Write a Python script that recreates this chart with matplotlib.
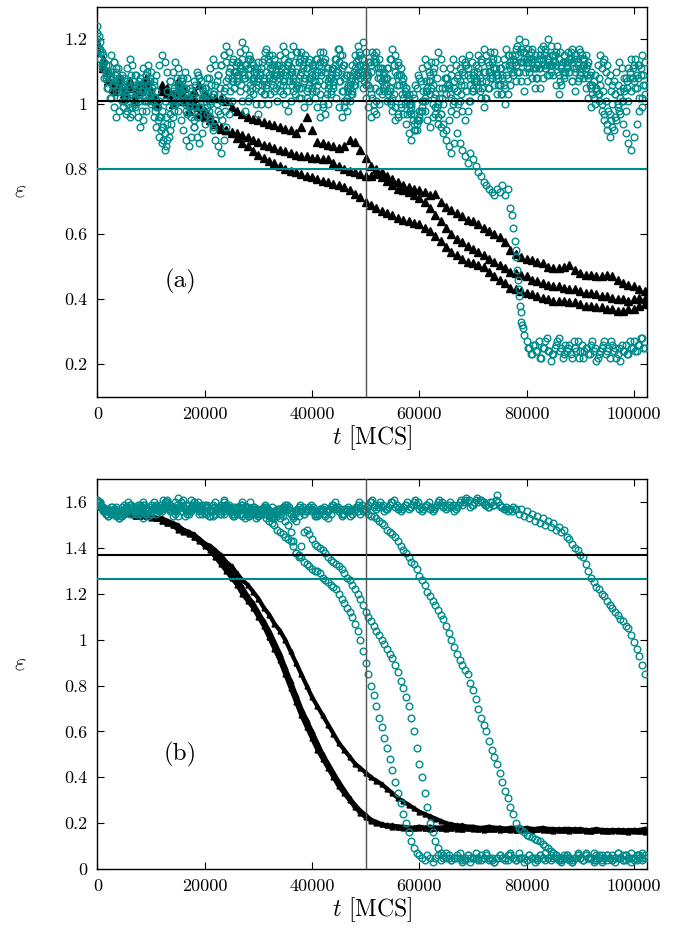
import numpy as np
import matplotlib.pyplot as plt
from matplotlib.ticker import FuncFormatter, MultipleLocator

plt.rcParams['font.family'] = 'serif'
plt.rcParams['font.serif'] = ['cmr10']
plt.rcParams['mathtext.fontset'] = 'cm'
plt.rcParams['axes.formatter.use_mathtext'] = True

teal = '#008b8b'

# ---------------- panel (a) ----------------
# teal runs, sampled every 500 MCS
a_teal_1 = [1.24, 1.19, 1.15, 1.12, 1.10, 1.08, 1.06, 1.04, 1.07, 1.09,
            1.05, 1.02, 0.99, 0.97, 1.00, 1.03, 1.06, 1.04, 1.01, 1.03,
            1.00, 0.96, 0.93, 0.90, 0.88, 0.86, 0.89, 0.92, 0.96, 1.00,
            1.03, 1.06, 1.08, 1.05, 1.02, 0.98, 0.95, 0.98, 1.02, 1.05,
            1.03, 0.99, 0.95, 0.92, 0.89, 0.87, 0.85, 0.89, 0.93, 0.97,
            1.01, 1.05, 1.09, 1.12, 1.10, 1.08, 1.11, 1.14, 1.12, 1.09,
            1.06, 1.04, 1.07, 1.10, 1.13, 1.15, 1.12, 1.09, 1.06, 1.03,
            1.00, 0.98, 1.01, 1.04, 1.07, 1.05, 1.02, 0.99, 1.02, 1.06,
            1.09, 1.12, 1.14, 1.16, 1.13, 1.10, 1.07, 1.04, 1.07, 1.10,
            1.13, 1.11, 1.08, 1.05, 1.09, 1.12, 1.15, 1.18, 1.15, 1.12,
            1.09, 1.06, 1.03, 1.00, 0.97, 1.00, 1.03, 1.06, 1.04, 1.01,
            0.98, 0.95, 0.97, 1.00, 0.97, 0.94, 0.91, 0.89, 0.92, 0.95,
            0.98, 1.01, 0.98, 0.95, 0.93, 0.96, 0.99, 0.96, 0.93, 0.91,
            0.89, 0.87, 0.85, 0.88, 0.91, 0.88, 0.86, 0.84, 0.82, 0.85,
            0.83, 0.81, 0.79, 0.78, 0.76, 0.75, 0.74, 0.73, 0.72, 0.74,
            0.73, 0.75, 0.72, 0.74, 0.68, 0.62, 0.53, 0.43, 0.33, 0.29,
            0.27, 0.25, 0.23, 0.26, 0.24, 0.22, 0.25, 0.27, 0.24, 0.21,
            0.23, 0.26, 0.28, 0.25, 0.23, 0.24, 0.26, 0.22, 0.25, 0.27,
            0.24, 0.22, 0.25, 0.23, 0.26, 0.24, 0.21, 0.23, 0.25, 0.27,
            0.24, 0.22, 0.26, 0.25, 0.23, 0.21, 0.24, 0.26, 0.23, 0.25,
            0.27, 0.24, 0.26, 0.28, 0.25]
a_drop_t = [77250, 77750, 78100, 78250, 78400, 78600, 78750, 78900, 79100, 79250]
a_drop_eps = [0.66, 0.58, 0.55, 0.49, 0.46, 0.41, 0.38, 0.36, 0.32, 0.31]
# in-between samples of the same run after its drop (80250 + 500 k MCS)
a_tail_mid = [0.25, 0.23, 0.26, 0.24, 0.27, 0.22, 0.25, 0.28, 0.24, 0.23,
              0.25, 0.27, 0.24, 0.22, 0.26, 0.25, 0.23, 0.27, 0.24, 0.22,
              0.26, 0.24, 0.25, 0.23, 0.27, 0.25, 0.22, 0.24, 0.26, 0.23,
              0.25, 0.27, 0.24, 0.22, 0.25, 0.26, 0.24, 0.23, 0.27, 0.25,
              0.24, 0.26, 0.28, 0.25]

a_teal_2 = [1.20, 1.16, 1.12, 1.09, 1.07, 1.10, 1.13, 1.11, 1.08, 1.05,
            1.08, 1.11, 1.14, 1.12, 1.09, 1.06, 1.03, 1.06, 1.09, 1.12,
            1.10, 1.07, 1.04, 1.01, 0.98, 1.01, 1.04, 1.07, 1.10, 1.13,
            1.11, 1.08, 1.05, 1.02, 0.99, 0.96, 0.93, 0.90, 0.88, 0.91,
            0.94, 0.97, 1.00, 1.03, 1.06, 1.09, 1.12, 1.15, 1.13, 1.10,
            1.07, 1.10, 1.13, 1.16, 1.19, 1.17, 1.14, 1.11, 1.08, 1.05,
            1.08, 1.11, 1.14, 1.17, 1.15, 1.12, 1.09, 1.12, 1.15, 1.18,
            1.16, 1.13, 1.10, 1.07, 1.10, 1.13, 1.16, 1.14, 1.11, 1.08,
            1.05, 1.02, 0.99, 0.96, 0.99, 1.02, 1.05, 1.08, 1.11, 1.14,
            1.17, 1.15, 1.12, 1.09, 1.06, 1.03, 1.06, 1.09, 1.12, 1.19,
            1.16, 1.13, 1.10, 1.13, 1.16, 1.14, 1.11, 1.08, 1.11, 1.14,
            1.17, 1.15, 1.12, 1.09, 1.06, 1.03, 1.00, 0.97, 0.94, 0.92,
            0.95, 0.98, 1.01, 1.04, 1.07, 1.10, 1.13, 1.16, 1.14, 1.11,
            1.08, 1.05, 1.02, 1.05, 1.08, 1.11, 1.14, 1.12, 1.09, 1.06,
            1.09, 1.12, 1.15, 1.13, 1.10, 1.07, 1.10, 1.13, 1.16, 1.14,
            1.11, 1.08, 1.05, 1.08, 1.11, 1.14, 1.17, 1.20, 1.17, 1.14,
            1.11, 1.14, 1.17, 1.15, 1.12, 1.15, 1.18, 1.16, 1.13, 1.10,
            1.13, 1.16, 1.14, 1.11, 1.08, 1.11, 1.14, 1.17, 1.15, 1.12,
            1.09, 1.12, 1.15, 1.13, 1.10, 1.07, 1.04, 1.01, 0.98, 0.95,
            0.92, 0.90, 0.93, 0.96, 0.99, 1.02, 1.05, 1.08, 1.11, 1.14,
            1.12, 1.09, 1.12, 1.15, 1.13]

a_teal_3 = [1.22, 1.17, 1.13, 1.10, 1.12, 1.15, 1.13, 1.10, 1.07, 1.04,
            1.01, 0.98, 0.96, 0.99, 1.02, 1.05, 1.08, 1.11, 1.09, 1.06,
            1.03, 1.06, 1.09, 1.12, 1.15, 1.13, 1.10, 1.07, 1.04, 1.01,
            0.98, 0.95, 0.92, 0.89, 0.87, 0.90, 0.93, 0.96, 0.99, 1.02,
            1.05, 1.08, 1.11, 1.14, 1.12, 1.09, 1.12, 1.15, 1.18, 1.16,
            1.13, 1.10, 1.07, 1.04, 1.01, 0.98, 1.01, 1.04, 1.07, 1.10,
            1.13, 1.11, 1.08, 1.05, 1.08, 1.11, 1.14, 1.12, 1.09, 1.06,
            1.09, 1.12, 1.15, 1.18, 1.16, 1.13, 1.10, 1.07, 1.04, 1.01,
            1.04, 1.07, 1.10, 1.13, 1.16, 1.14, 1.11, 1.08, 1.05, 1.02,
            0.99, 0.96, 0.99, 1.02, 1.05, 1.08, 1.11, 1.14, 1.12, 1.09,
            1.06, 1.09, 1.12, 1.15, 1.13, 1.10, 1.07, 1.04, 1.01, 1.04,
            1.07, 1.10, 1.13, 1.11, 1.08, 1.05, 1.02, 0.99, 1.02, 1.05,
            1.08, 1.11, 1.14, 1.12, 1.09, 1.06, 1.03, 1.00, 0.97, 0.94,
            0.92, 0.95, 0.98, 1.01, 1.04, 1.07, 1.10, 1.13, 1.11, 1.08,
            1.05, 1.08, 1.11, 1.14, 1.17, 1.15, 1.12, 1.09, 1.06, 1.03,
            1.06, 1.09, 1.12, 1.15, 1.13, 1.10, 1.07, 1.10, 1.13, 1.16,
            1.14, 1.11, 1.08, 1.05, 1.08, 1.11, 1.14, 1.17, 1.20, 1.18,
            1.15, 1.12, 1.09, 1.12, 1.15, 1.13, 1.10, 1.07, 1.10, 1.13,
            1.16, 1.14, 1.11, 1.08, 1.05, 1.02, 1.05, 1.08, 1.11, 1.14,
            1.12, 1.09, 1.06, 1.03, 1.00, 0.97, 0.94, 0.91, 0.88, 0.86,
            0.90, 0.94, 0.98, 1.02, 1.06]

a_teal_4 = [1.18, 1.14, 1.11, 1.08, 1.05, 1.02, 0.99, 0.96, 0.98, 1.01,
            1.04, 1.07, 1.05, 1.02, 0.99, 0.96, 0.93, 0.95, 0.98, 1.01,
            1.04, 1.02, 0.99, 0.96, 0.93, 0.91, 0.94, 0.97, 1.00, 1.03,
            1.06, 1.04, 1.01, 0.98, 1.01, 1.04, 1.07, 1.10, 1.08, 1.05,
            1.02, 0.99, 0.96, 0.93, 0.95, 0.98, 1.01, 1.04, 1.07, 1.10,
            1.08, 1.05, 1.08, 1.11, 1.14, 1.12, 1.09, 1.06, 1.03, 1.00,
            0.97, 1.00, 1.03, 1.06, 1.09, 1.07, 1.04, 1.01, 1.04, 1.07,
            1.10, 1.13, 1.11, 1.08, 1.05, 1.02, 1.05, 1.08, 1.11, 1.14,
            1.12, 1.09, 1.06, 1.03, 1.00, 0.97, 1.00, 1.03, 1.06, 1.09,
            1.07, 1.04, 1.01, 0.98, 1.01, 1.04, 1.07, 1.10, 1.08, 1.05,
            1.02, 0.99, 0.96, 0.98, 1.01, 1.04, 1.07, 1.10, 1.08, 1.05,
            1.02, 0.99, 0.96, 0.99, 1.02, 1.05, 1.03, 1.00, 0.97, 0.94,
            0.96, 0.99, 1.02, 1.05, 1.03, 1.00, 0.97, 0.94, 0.97, 1.00,
            1.03, 1.06, 1.09, 1.07, 1.04, 1.01, 0.98, 0.95, 0.98, 1.01,
            1.04, 1.07, 1.05, 1.02, 0.99, 1.02, 1.05, 1.08, 1.11, 1.09,
            1.06, 1.03, 1.00, 1.03, 1.06, 1.09, 1.12, 1.10, 1.07, 1.04,
            1.07, 1.10, 1.13, 1.11, 1.08, 1.05, 1.08, 1.11, 1.14, 1.12,
            1.09, 1.06, 1.03, 1.06, 1.09, 1.12, 1.10, 1.07, 1.04, 1.07,
            1.10, 1.08, 1.05, 1.02, 0.99, 1.02, 1.05, 1.03, 1.00, 0.97,
            0.94, 0.97, 1.00, 1.03, 1.06, 1.04, 1.01, 0.98, 1.01, 1.04,
            1.07, 1.05, 1.02, 0.99, 1.03]

# two more teal runs, sampled at 250 + 500 k MCS
a_teal_5 = [1.21, 1.16, 1.13, 1.10, 1.08, 1.06, 1.09, 1.11, 1.08, 1.05,
            1.03, 1.06, 1.09, 1.07, 1.04, 1.01, 0.98, 1.01, 1.04, 1.07,
            1.05, 1.02, 0.99, 0.96, 0.93, 0.96, 0.99, 1.02, 1.05, 1.08,
            1.06, 1.03, 1.00, 0.97, 1.00, 1.03, 1.06, 1.09, 1.07, 1.04,
            1.01, 0.98, 1.01, 1.04, 1.07, 1.05, 1.02, 1.05, 1.08, 1.11,
            1.14, 1.12, 1.09, 1.06, 1.09, 1.12, 1.15, 1.13, 1.10, 1.07,
            1.10, 1.13, 1.16, 1.14, 1.11, 1.08, 1.05, 1.08, 1.11, 1.14,
            1.12, 1.09, 1.06, 1.03, 1.06, 1.09, 1.12, 1.15, 1.13, 1.10,
            1.07, 1.04, 1.07, 1.10, 1.13, 1.11, 1.08, 1.11, 1.14, 1.17,
            1.15, 1.12, 1.09, 1.06, 1.03, 1.06, 1.09, 1.12, 1.10, 1.07,
            1.10, 1.13, 1.16, 1.14, 1.11, 1.08, 1.05, 1.08, 1.11, 1.14,
            1.12, 1.09, 1.06, 1.03, 1.00, 0.97, 1.00, 1.03, 1.06, 1.09,
            1.07, 1.04, 1.07, 1.10, 1.13, 1.11, 1.08, 1.05, 1.02, 1.05,
            1.08, 1.11, 1.14, 1.12, 1.09, 1.06, 1.09, 1.12, 1.15, 1.13,
            1.10, 1.07, 1.04, 1.07, 1.10, 1.13, 1.16, 1.14, 1.11, 1.08,
            1.11, 1.14, 1.17, 1.15, 1.12, 1.15, 1.18, 1.16, 1.13, 1.10,
            1.13, 1.16, 1.14, 1.11, 1.14, 1.17, 1.15, 1.12, 1.09, 1.12,
            1.15, 1.18, 1.16, 1.13, 1.10, 1.13, 1.16, 1.14, 1.11, 1.08,
            1.11, 1.14, 1.12, 1.09, 1.06, 1.09, 1.12, 1.15, 1.13, 1.10,
            1.07, 1.04, 1.07, 1.10, 1.13, 1.11, 1.08, 1.05, 1.08, 1.11,
            1.14, 1.12, 1.09, 1.06]
a_teal_6 = [1.17, 1.12, 1.08, 1.05, 1.02, 1.04, 1.07, 1.05, 1.02, 0.99,
            0.97, 1.00, 1.03, 1.06, 1.09, 1.07, 1.04, 1.07, 1.10, 1.08,
            1.01, 0.98, 0.95, 0.92, 0.89, 0.87, 0.90, 0.94, 0.98, 1.01,
            1.04, 1.07, 1.10, 1.08, 1.05, 1.02, 0.99, 0.96, 0.99, 1.02,
            1.05, 1.08, 1.06, 1.03, 1.00, 0.97, 0.95, 0.98, 1.01, 1.04,
            1.07, 1.10, 1.13, 1.11, 1.08, 1.05, 1.02, 1.05, 1.08, 1.11,
            1.09, 1.06, 1.03, 1.00, 1.03, 1.06, 1.09, 1.12, 1.10, 1.07,
            1.04, 1.07, 1.10, 1.13, 1.16, 1.14, 1.11, 1.08, 1.05, 1.08,
            1.11, 1.14, 1.12, 1.09, 1.06, 1.03, 1.06, 1.09, 1.12, 1.10,
            1.07, 1.04, 1.01, 1.04, 1.07, 1.10, 1.13, 1.16, 1.14, 1.11,
            1.08, 1.05, 1.02, 1.05, 1.08, 1.11, 1.09, 1.06, 1.03, 1.00,
            1.03, 1.06, 1.09, 1.07, 1.04, 1.01, 0.98, 0.95, 0.92, 0.95,
            0.98, 1.01, 1.04, 1.07, 1.05, 1.02, 0.99, 1.02, 1.05, 1.08,
            1.06, 1.03, 1.00, 0.97, 1.00, 1.03, 1.06, 1.04, 1.01, 1.04,
            1.07, 1.10, 1.08, 1.05, 1.02, 1.05, 1.08, 1.11, 1.09, 1.06,
            1.03, 1.06, 1.09, 1.12, 1.15, 1.13, 1.10, 1.13, 1.16, 1.19,
            1.17, 1.14, 1.11, 1.08, 1.11, 1.14, 1.12, 1.09, 1.12, 1.15,
            1.13, 1.10, 1.07, 1.10, 1.13, 1.16, 1.14, 1.11, 1.14, 1.17,
            1.15, 1.12, 1.09, 1.06, 1.03, 1.00, 1.03, 1.06, 1.04, 1.01,
            0.98, 0.95, 0.92, 0.95, 0.98, 1.01, 1.04, 1.07, 1.10, 1.08,
            1.05, 1.08, 1.11, 1.09]

# black runs, sampled every 1000 MCS
a_black_1 = [1.19, 1.14, 1.10, 1.06, 1.08, 1.04, 1.07, 1.03, 1.06, 1.08,
             1.04, 1.02, 1.06, 1.05, 1.03, 1.07, 1.05, 1.02, 1.04, 1.06,
             1.03, 1.02, 1.02, 1.02, 1.01, 0.99, 0.98, 0.97, 0.96, 0.955,
             0.95, 0.945, 0.94, 0.935, 0.93, 0.925, 0.92, 0.91, 0.93, 0.96,
             0.92, 0.885, 0.88, 0.875, 0.87, 0.865, 0.87, 0.89, 0.885, 0.86,
             0.835, 0.81, 0.80, 0.79, 0.78, 0.77, 0.76, 0.75, 0.745, 0.74,
             0.735, 0.73, 0.72, 0.725, 0.70, 0.685, 0.675, 0.665, 0.655, 0.645,
             0.64, 0.63, 0.62, 0.61, 0.60, 0.59, 0.575, 0.55, 0.54, 0.53,
             0.525, 0.52, 0.515, 0.51, 0.50, 0.495, 0.495, 0.50, 0.505, 0.49,
             0.48, 0.475, 0.475, 0.47, 0.47, 0.475, 0.47, 0.46, 0.45, 0.445,
             0.44, 0.43, 0.425]
a_black_2 = [1.17, 1.12, 1.08, 1.05, 1.07, 1.03, 1.06, 1.02, 1.05, 1.07,
             1.03, 1.01, 1.05, 1.04, 1.02, 1.05, 1.03, 1.00, 1.02, 0.99,
             0.98, 0.96, 0.94, 0.925, 0.92, 0.915, 0.91, 0.905, 0.90, 0.89,
             0.885, 0.875, 0.87, 0.865, 0.86, 0.855, 0.85, 0.845, 0.84, 0.84,
             0.835, 0.835, 0.83, 0.83, 0.82, 0.81, 0.80, 0.795, 0.79, 0.785,
             0.78, 0.78, 0.785, 0.775, 0.765, 0.75, 0.74, 0.735, 0.73, 0.72,
             0.71, 0.70, 0.68, 0.66, 0.64, 0.62, 0.60, 0.585, 0.575, 0.565,
             0.555, 0.545, 0.535, 0.525, 0.515, 0.505, 0.495, 0.485, 0.48, 0.475,
             0.47, 0.46, 0.455, 0.45, 0.445, 0.44, 0.44, 0.435, 0.43, 0.43,
             0.425, 0.42, 0.42, 0.415, 0.41, 0.41, 0.405, 0.40, 0.40, 0.395,
             0.40, 0.405, 0.40]
a_black_3 = [1.16, 1.11, 1.07, 1.04, 1.06, 1.02, 1.05, 1.01, 1.04, 1.06,
             1.02, 1.00, 1.04, 1.03, 1.00, 1.03, 1.01, 0.98, 1.00, 0.97,
             0.96, 0.95, 0.94, 0.93, 0.92, 0.91, 0.895, 0.88, 0.87, 0.855,
             0.845, 0.835, 0.825, 0.82, 0.81, 0.80, 0.795, 0.79, 0.785, 0.78,
             0.775, 0.77, 0.765, 0.76, 0.755, 0.75, 0.745, 0.735, 0.725, 0.715,
             0.70, 0.69, 0.68, 0.67, 0.665, 0.66, 0.65, 0.645, 0.64, 0.635,
             0.63, 0.62, 0.61, 0.595, 0.58, 0.56, 0.545, 0.535, 0.525, 0.515,
             0.51, 0.505, 0.50, 0.485, 0.47, 0.46, 0.45, 0.435, 0.43, 0.425,
             0.42, 0.415, 0.41, 0.405, 0.40, 0.395, 0.395, 0.395, 0.39, 0.39,
             0.385, 0.38, 0.38, 0.375, 0.375, 0.37, 0.37, 0.365, 0.365, 0.37,
             0.37, 0.38, 0.385]

a_black_level = 1.01
a_teal_level = 0.80

# ---------------- panel (b) ----------------
b_teal_1 = [1.61, 1.60, 1.58, 1.57, 1.56, 1.55, 1.56, 1.54, 1.53, 1.55,
            1.57, 1.58, 1.56, 1.55, 1.57, 1.59, 1.58, 1.56, 1.55, 1.54,
            1.56, 1.58, 1.59, 1.57, 1.56, 1.58, 1.60, 1.59, 1.57, 1.55,
            1.54, 1.56, 1.58, 1.57, 1.59, 1.61, 1.60, 1.58, 1.56, 1.57,
            1.59, 1.58, 1.56, 1.54, 1.55, 1.57, 1.58, 1.60, 1.59, 1.57,
            1.55, 1.56, 1.58, 1.57, 1.55, 1.53, 1.54, 1.56, 1.57, 1.55,
            1.54, 1.56, 1.55, 1.53, 1.52, 1.51,
            1.50, 1.48, 1.47, 1.46, 1.45, 1.44, 1.43, 1.41, 1.38, 1.37,
            1.36, 1.34, 1.33, 1.32, 1.31, 1.30, 1.30, 1.29, 1.27, 1.26,
            1.25, 1.24, 1.23, 1.22, 1.20, 1.18, 1.16, 1.14, 1.12, 1.10,
            1.07, 1.04, 1.00, 0.95, 0.90, 0.85, 0.80, 0.76, 0.71, 0.66,
            0.62, 0.57, 0.53, 0.48, 0.43, 0.38, 0.33, 0.29, 0.24, 0.20,
            0.16, 0.12, 0.09, 0.07, 0.06,
            0.05, 0.04, 0.06, 0.05, 0.03, 0.05, 0.06, 0.04, 0.05, 0.07,
            0.05, 0.04, 0.05, 0.06, 0.05, 0.03, 0.04, 0.06, 0.05, 0.05,
            0.07, 0.05, 0.04, 0.05, 0.06, 0.04, 0.05, 0.03, 0.05, 0.06,
            0.05, 0.04, 0.06, 0.07, 0.05, 0.04, 0.05, 0.05, 0.03, 0.04,
            0.06, 0.05, 0.05, 0.04, 0.06, 0.05, 0.07, 0.05, 0.04, 0.05,
            0.06, 0.04, 0.03, 0.05, 0.06, 0.05, 0.04, 0.05, 0.07, 0.05,
            0.04, 0.06, 0.05, 0.05, 0.03, 0.05, 0.06, 0.04, 0.05, 0.06,
            0.05, 0.04, 0.05, 0.07, 0.05, 0.04, 0.06, 0.05, 0.03, 0.05,
            0.06, 0.05, 0.04, 0.06]
b_teal_2 = [1.60, 1.59, 1.57, 1.55, 1.54, 1.56, 1.57, 1.55, 1.56, 1.58,
            1.59, 1.57, 1.55, 1.56, 1.58, 1.57, 1.55, 1.53, 1.55, 1.57,
            1.59, 1.60, 1.58, 1.56, 1.57, 1.59, 1.58, 1.56, 1.54, 1.56,
            1.58, 1.60, 1.61, 1.59, 1.57, 1.56, 1.58, 1.59, 1.57, 1.55,
            1.56, 1.58, 1.57, 1.59, 1.60, 1.58, 1.56, 1.55, 1.57, 1.58,
            1.56, 1.54, 1.55, 1.57, 1.59, 1.58, 1.56, 1.57, 1.55, 1.53,
            1.54, 1.56, 1.57, 1.55, 1.56, 1.58, 1.56, 1.54, 1.53, 1.54,
            1.52, 1.50,
            1.47, 1.43, 1.38, 1.36, 1.41, 1.47, 1.48, 1.46, 1.44, 1.42,
            1.41, 1.40, 1.39, 1.38, 1.36, 1.35, 1.34, 1.33, 1.32, 1.31,
            1.29, 1.27, 1.26, 1.24, 1.22, 1.20, 1.18, 1.15, 1.12, 1.10,
            1.08, 1.06, 1.04, 1.02, 1.00, 0.98, 0.96, 0.94, 0.92, 0.89,
            0.86, 0.82, 0.79, 0.75, 0.71, 0.66, 0.60, 0.53, 0.46, 0.40,
            0.33, 0.27, 0.20, 0.16, 0.12, 0.09, 0.07, 0.06,
            0.05, 0.06, 0.04, 0.05, 0.05, 0.07, 0.04, 0.05, 0.06, 0.03,
            0.05, 0.05, 0.04, 0.06, 0.05, 0.07, 0.05, 0.04, 0.03, 0.05,
            0.06, 0.05, 0.05, 0.04, 0.06, 0.05, 0.04, 0.07, 0.05, 0.05,
            0.04, 0.06, 0.05, 0.03, 0.05, 0.06, 0.05, 0.04, 0.05, 0.06,
            0.07, 0.05, 0.04, 0.05, 0.05, 0.06, 0.04, 0.03, 0.05, 0.06,
            0.05, 0.04, 0.06, 0.05, 0.05, 0.07, 0.04, 0.05, 0.06, 0.05,
            0.04, 0.05, 0.06, 0.03, 0.05, 0.05, 0.06, 0.04, 0.05, 0.07,
            0.05, 0.04, 0.06, 0.05, 0.05]
b_teal_3 = [1.60, 1.58, 1.56, 1.55, 1.57, 1.58, 1.56, 1.55, 1.53, 1.55,
            1.56, 1.58, 1.59, 1.57, 1.56, 1.55, 1.57, 1.59, 1.57, 1.56,
            1.58, 1.57, 1.55, 1.56, 1.58, 1.60, 1.59, 1.57, 1.58, 1.60,
            1.62, 1.60, 1.58, 1.57, 1.56, 1.58, 1.59, 1.57, 1.55, 1.56,
            1.58, 1.59, 1.57, 1.56, 1.55, 1.57, 1.59, 1.61, 1.59, 1.57,
            1.56, 1.58, 1.57, 1.55, 1.54, 1.56, 1.58, 1.60, 1.58, 1.56,
            1.55, 1.57, 1.58, 1.56, 1.54, 1.53, 1.55, 1.57, 1.56, 1.58,
            1.59, 1.57, 1.55, 1.53, 1.52, 1.54, 1.56, 1.55, 1.57, 1.58,
            1.56, 1.54, 1.55, 1.57, 1.56, 1.54, 1.53, 1.55, 1.57, 1.58,
            1.56, 1.55, 1.57, 1.56, 1.54, 1.55, 1.57, 1.56, 1.55, 1.57,
            1.56, 1.55, 1.54, 1.54,
            1.53, 1.52, 1.51, 1.50, 1.48, 1.47, 1.46, 1.45, 1.43, 1.41,
            1.39, 1.38, 1.36, 1.34, 1.33, 1.31, 1.28, 1.26, 1.24, 1.21,
            1.19, 1.17, 1.15, 1.13, 1.11, 1.09, 1.06, 1.03, 1.00, 0.97,
            0.94, 0.91, 0.89, 0.87, 0.85, 0.81, 0.78, 0.74, 0.70, 0.66,
            0.63, 0.60, 0.56, 0.52, 0.49, 0.46, 0.42, 0.38, 0.34, 0.31,
            0.27, 0.24, 0.20, 0.18, 0.17, 0.16, 0.15, 0.145, 0.14, 0.13,
            0.125, 0.12, 0.11, 0.10, 0.09, 0.08, 0.07, 0.06,
            0.05, 0.04, 0.06, 0.05, 0.05, 0.03, 0.05, 0.06, 0.05, 0.04,
            0.07, 0.05, 0.05, 0.04, 0.06, 0.05, 0.03, 0.05, 0.06, 0.05,
            0.04, 0.05, 0.07, 0.05, 0.04, 0.06, 0.05, 0.05, 0.04, 0.06,
            0.05, 0.07, 0.06]
b_teal_4 = [1.61, 1.59, 1.57, 1.56, 1.54, 1.55, 1.57, 1.58, 1.56, 1.54,
            1.55, 1.57, 1.59, 1.58, 1.56, 1.57, 1.59, 1.60, 1.58, 1.56,
            1.55, 1.57, 1.58, 1.56, 1.57, 1.59, 1.61, 1.59, 1.57, 1.56,
            1.57, 1.59, 1.58, 1.56, 1.55, 1.57, 1.60, 1.58, 1.57, 1.59,
            1.58, 1.56, 1.54, 1.56, 1.58, 1.57, 1.55, 1.56, 1.58, 1.59,
            1.57, 1.55, 1.56, 1.58, 1.60, 1.58, 1.56, 1.55, 1.57, 1.56,
            1.54, 1.55, 1.57, 1.58, 1.56, 1.55, 1.53, 1.55, 1.57, 1.56,
            1.58, 1.57, 1.55, 1.54, 1.56, 1.58, 1.57, 1.55, 1.56, 1.58,
            1.57, 1.55, 1.54, 1.56, 1.57, 1.55, 1.56, 1.58, 1.59, 1.57,
            1.56, 1.54, 1.55, 1.57, 1.56, 1.55, 1.57, 1.59, 1.58, 1.56,
            1.57, 1.59, 1.60, 1.58, 1.57, 1.59, 1.58, 1.56, 1.57, 1.59,
            1.60, 1.58, 1.57, 1.56, 1.58, 1.59, 1.57, 1.58, 1.60, 1.59,
            1.57, 1.56, 1.58, 1.59, 1.57, 1.56, 1.58, 1.60, 1.59, 1.58,
            1.57, 1.59, 1.58, 1.56, 1.58, 1.60, 1.59, 1.61, 1.60, 1.58,
            1.59, 1.61, 1.60, 1.61, 1.60, 1.59, 1.58, 1.60, 1.59, 1.63,
            1.59, 1.58, 1.57, 1.56, 1.57, 1.58,
            1.57, 1.55, 1.57, 1.54, 1.56, 1.53, 1.55, 1.52, 1.54, 1.51,
            1.53, 1.50, 1.52, 1.49, 1.51, 1.48, 1.49, 1.47, 1.48, 1.45,
            1.44, 1.42, 1.40, 1.39, 1.37, 1.36, 1.33, 1.30, 1.27, 1.25,
            1.23, 1.22, 1.20, 1.19, 1.17, 1.15, 1.14, 1.12, 1.11, 1.09,
            1.08, 1.06, 1.05, 1.02, 0.99, 0.96, 0.93, 0.89, 0.85]
# in-between samples (250 + 500 k MCS) of the long-lived run before it drops
b_teal_4_mid = [1.60, 1.58, 1.56, 1.55, 1.56, 1.58, 1.57, 1.55, 1.54, 1.56,
                1.58, 1.60, 1.59, 1.57, 1.55, 1.56, 1.58, 1.59, 1.57, 1.55,
                1.56, 1.58, 1.57, 1.59, 1.61, 1.60, 1.58, 1.56, 1.57, 1.59,
                1.58, 1.56, 1.54, 1.55, 1.57, 1.59, 1.58, 1.60, 1.58, 1.57,
                1.55, 1.54, 1.56, 1.58, 1.57, 1.55, 1.57, 1.59, 1.58, 1.56,
                1.54, 1.56, 1.58, 1.59, 1.57, 1.55, 1.54, 1.56, 1.58, 1.57,
                1.55, 1.57, 1.59, 1.57, 1.55, 1.54, 1.56, 1.57, 1.55, 1.57,
                1.59, 1.58, 1.56, 1.55, 1.57, 1.59, 1.58, 1.56, 1.57, 1.59,
                1.58, 1.56, 1.55, 1.57, 1.58, 1.56, 1.57, 1.59, 1.60, 1.58,
                1.57, 1.55, 1.56, 1.58, 1.57, 1.56, 1.58, 1.60, 1.59, 1.57,
                1.58, 1.60, 1.61, 1.59, 1.58, 1.60, 1.59, 1.57, 1.58, 1.60,
                1.61, 1.59, 1.58, 1.57, 1.59, 1.60, 1.58, 1.59, 1.61, 1.60,
                1.58, 1.57, 1.59, 1.60, 1.58, 1.57, 1.59, 1.61, 1.60, 1.59,
                1.58, 1.60, 1.59, 1.57, 1.59, 1.61, 1.60, 1.62, 1.61, 1.59,
                1.60, 1.62, 1.61, 1.60, 1.59, 1.58, 1.60, 1.59, 1.61, 1.60,
                1.58, 1.57, 1.58, 1.57, 1.56, 1.57]

b_black_1 = [1.58, 1.57, 1.56, 1.56, 1.55, 1.55, 1.55, 1.54, 1.54, 1.54,
             1.53, 1.53, 1.52, 1.51, 1.50, 1.49, 1.48, 1.47, 1.45, 1.44,
             1.42, 1.41, 1.39, 1.37, 1.34, 1.32, 1.29, 1.26, 1.24, 1.21,
             1.18, 1.14, 1.11, 1.07, 1.04, 1.00, 0.95, 0.90, 0.85, 0.80,
             0.75, 0.71, 0.67, 0.63, 0.59, 0.55, 0.52, 0.49, 0.46, 0.44,
             0.42, 0.40, 0.385, 0.37, 0.35, 0.33, 0.31, 0.295, 0.28, 0.265,
             0.25, 0.24, 0.23, 0.22, 0.21, 0.20, 0.195, 0.19, 0.19, 0.185,
             0.185, 0.18, 0.18, 0.185, 0.18, 0.18, 0.175, 0.18, 0.18, 0.175,
             0.18, 0.175, 0.175, 0.18, 0.175, 0.175, 0.17, 0.175, 0.175, 0.17,
             0.175, 0.17, 0.17, 0.175, 0.17, 0.17, 0.165, 0.17, 0.17, 0.165,
             0.17, 0.17, 0.175]
b_black_2 = [1.59, 1.57, 1.56, 1.56, 1.55, 1.56, 1.55, 1.55, 1.54, 1.55,
             1.54, 1.53, 1.52, 1.51, 1.50, 1.48, 1.47, 1.46, 1.45, 1.43,
             1.41, 1.39, 1.36, 1.33, 1.30, 1.27, 1.24, 1.20, 1.17, 1.14,
             1.10, 1.06, 1.01, 0.96, 0.91, 0.85, 0.79, 0.73, 0.67, 0.62,
             0.57, 0.52, 0.48, 0.44, 0.40, 0.36, 0.33, 0.30, 0.27, 0.245,
             0.225, 0.21, 0.20, 0.195, 0.19, 0.185, 0.185, 0.18, 0.18, 0.18,
             0.18, 0.18, 0.175, 0.18, 0.18, 0.175, 0.18, 0.175, 0.175, 0.18,
             0.175, 0.175, 0.17, 0.175, 0.175, 0.17, 0.175, 0.17, 0.17, 0.175,
             0.17, 0.17, 0.175, 0.17, 0.17, 0.165, 0.17, 0.17, 0.165, 0.17,
             0.17, 0.165, 0.165, 0.17, 0.165, 0.165, 0.17, 0.165, 0.165, 0.16,
             0.165, 0.165, 0.16]
b_black_3 = [1.58, 1.57, 1.57, 1.56, 1.56, 1.55, 1.55, 1.54, 1.55, 1.54,
             1.54, 1.53, 1.53, 1.52, 1.51, 1.50, 1.48, 1.47, 1.46, 1.44,
             1.42, 1.40, 1.38, 1.35, 1.32, 1.29, 1.26, 1.23, 1.19, 1.16,
             1.12, 1.08, 1.04, 0.99, 0.94, 0.88, 0.82, 0.76, 0.70, 0.65,
             0.60, 0.55, 0.50, 0.46, 0.42, 0.38, 0.345, 0.31, 0.28, 0.255,
             0.235, 0.215, 0.205, 0.195, 0.19, 0.19, 0.185, 0.185, 0.18, 0.18,
             0.185, 0.18, 0.185, 0.18, 0.18, 0.185, 0.18, 0.18, 0.175, 0.18,
             0.18, 0.175, 0.18, 0.175, 0.175, 0.18, 0.175, 0.175, 0.17, 0.175,
             0.175, 0.17, 0.175, 0.175, 0.17, 0.17, 0.175, 0.17, 0.17, 0.175,
             0.17, 0.17, 0.165, 0.17, 0.17, 0.165, 0.17, 0.17, 0.165, 0.17,
             0.17, 0.165, 0.17]

b_black_level = 1.37
b_teal_level = 1.265

t_mark = 50000


def every(vals, step, start=0):
    return start + np.arange(len(vals)) * step


def fmt(v, pos):
    return '%g' % v


def style(ax, ymin, ymax, yticks):
    ax.set_xlim(0, 102400)
    ax.set_ylim(ymin, ymax)
    ax.xaxis.set_major_locator(MultipleLocator(20000))
    ax.set_yticks(yticks)
    ax.xaxis.set_major_formatter(FuncFormatter(fmt))
    ax.yaxis.set_major_formatter(FuncFormatter(fmt))
    ax.tick_params(direction='in', top=True, right=True, length=5, width=0.8,
                   labelsize=13, pad=7)
    for s in ax.spines.values():
        s.set_linewidth(1.0)
    ax.set_xlabel(r'$t$ [MCS]', fontsize=17)
    ax.xaxis.set_label_coords(0.5, -0.068)
    ax.set_ylabel(r'$\varepsilon$', fontsize=18, rotation=0)
    ax.yaxis.set_label_coords(-0.141, 0.5)


fig = plt.figure(figsize=(6.88, 9.32), dpi=100)
ax1 = fig.add_axes([0.1417, 0.5744, 0.7983, 0.4185])
ax2 = fig.add_axes([0.1417, 0.0676, 0.7983, 0.4181])

circ = dict(ls='none', marker='o', ms=4.8, mfc='none', mec=teal, mew=1.0, zorder=3)

# panel (a)
for eps in [a_black_1, a_black_2, a_black_3]:
    ax1.plot(every(eps, 1000), eps, ls='none', marker='^', ms=6, color='k', zorder=2)
for eps in [a_teal_1, a_teal_2, a_teal_3, a_teal_4]:
    ax1.plot(every(eps, 500), eps, **circ)
for eps in [a_teal_5, a_teal_6]:
    ax1.plot(every(eps, 500, 250), eps, **circ)
ax1.plot(a_drop_t, a_drop_eps, **circ)
ax1.plot(every(a_tail_mid, 500, 80250), a_tail_mid, **circ)
ax1.axhline(a_black_level, color='k', lw=1.5, zorder=5)
ax1.axhline(a_teal_level, color=teal, lw=1.5, zorder=5)
ax1.axvline(t_mark, color='#555555', lw=1.0, zorder=5)
ax1.text(15400, 0.455, '(a)', fontsize=18, ha='center', va='center')
style(ax1, 0.1, 1.3, np.arange(0.2, 1.21, 0.2))

# panel (b)
for eps in [b_black_1, b_black_2, b_black_3]:
    ax2.plot(every(eps, 1000), eps, ls='-', lw=3.0, marker='^', ms=3.5, color='k', zorder=2)
for eps in [b_teal_1, b_teal_2, b_teal_3, b_teal_4]:
    ax2.plot(every(eps, 500), eps, **circ)
ax2.plot(every(b_teal_4_mid, 500, 250), b_teal_4_mid, **circ)
ax2.axhline(b_black_level, color='k', lw=1.5, zorder=5)
ax2.axhline(b_teal_level, color=teal, lw=1.5, zorder=5)
ax2.axvline(t_mark, color='#555555', lw=1.0, zorder=5)
ax2.text(15400, 0.50, '(b)', fontsize=18, ha='center', va='center')
style(ax2, 0.0, 1.7, np.arange(0, 1.61, 0.2))

fig.savefig('out.png', dpi=100)
